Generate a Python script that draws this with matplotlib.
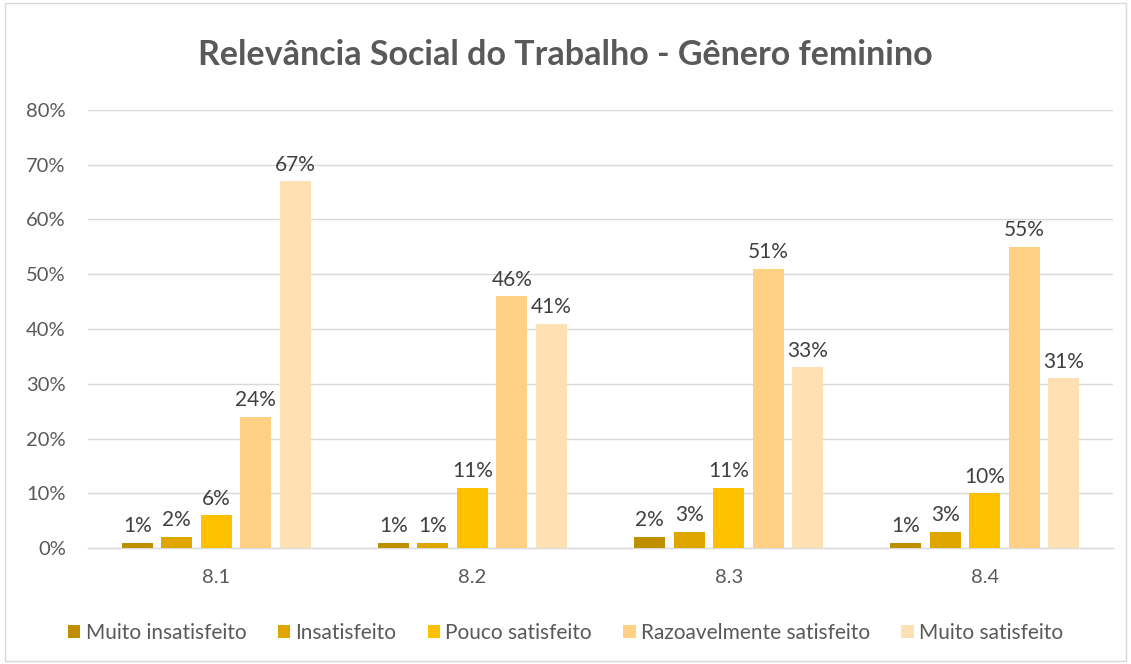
import numpy as np
import matplotlib.pyplot as plt
import matplotlib.ticker as mtick

# dados
categorias = ['8.1', '8.2', '8.3', '8.4']
series = ['Muito insatisfeito', 'Insatisfeito', 'Pouco satisfeito',
          'Razoavelmente satisfeito', 'Muito satisfeito']
muito_insat = [0.01, 0.01, 0.02, 0.01]
insat = [0.02, 0.01, 0.03, 0.03]
pouco_sat = [0.06, 0.11, 0.11, 0.10]
razoav_sat = [0.24, 0.46, 0.51, 0.55]
muito_sat = [0.67, 0.41, 0.33, 0.31]
valores = [muito_insat, insat, pouco_sat, razoav_sat, muito_sat]
cores = ['#BF8F00', '#DFA600', '#FFC000', '#FFD185', '#FFE0B3']

plt.rcParams['font.family'] = ['Lato', 'DejaVu Sans']
txt = '#595959'

fig = plt.figure(figsize=(11.31, 6.64), dpi=100)
ax = fig.add_axes([88 / 1131, 1 - 548 / 664, (1113 - 88) / 1131, (548 - 110) / 664])

x = np.arange(len(categorias))
w = 0.121
passo = 0.154
for i, (nome, v, c) in enumerate(zip(series, valores, cores)):
    pos = x + (i - 2) * passo
    barras = ax.bar(pos, v, w, color=c, label=nome, zorder=3)
    for b, val in zip(barras, v):
        ax.text(b.get_x() + b.get_width() / 2, val + 0.012, f'{val*100:.0f}%',
                ha='center', va='bottom', fontsize=15, color='#404040')

ax.set_xlim(-0.5, 3.5)
ax.set_ylim(0, 0.8)
ax.set_yticks(np.arange(0, 0.81, 0.1))
ax.yaxis.set_major_formatter(mtick.PercentFormatter(1.0, decimals=0))
ax.set_xticks(x)
ax.set_xticklabels(categorias)
ax.grid(axis='y', color='#D9D9D9', linewidth=1, zorder=0)
for s in ['top', 'right', 'left']:
    ax.spines[s].set_visible(False)
ax.spines['bottom'].set_color('#D9D9D9')
ax.spines['bottom'].set_linewidth(1)
ax.tick_params(axis='both', length=0, labelsize=14.5, colors=txt)
ax.tick_params(axis='y', pad=16)
ax.tick_params(axis='x', pad=15)

fig.text(0.5, 1 - 55 / 664, 'Relevância Social do Trabalho - Gênero feminino',
         ha='center', va='center', fontsize=24.5, fontweight='bold', color=txt)

fig.legend(loc='center', bbox_to_anchor=(0.5, 1 - 633 / 664), ncol=5, frameon=False,
           fontsize=15, labelcolor=txt, handlelength=0.6, handleheight=0.6,
           handletextpad=0.25, columnspacing=1.5)

# borda do gráfico
fig.patches.append(plt.Rectangle((0.004, 0.004), 0.992, 0.992, transform=fig.transFigure,
                                 fill=False, edgecolor='#D9D9D9', linewidth=1))

plt.savefig('out.png', dpi=100)
